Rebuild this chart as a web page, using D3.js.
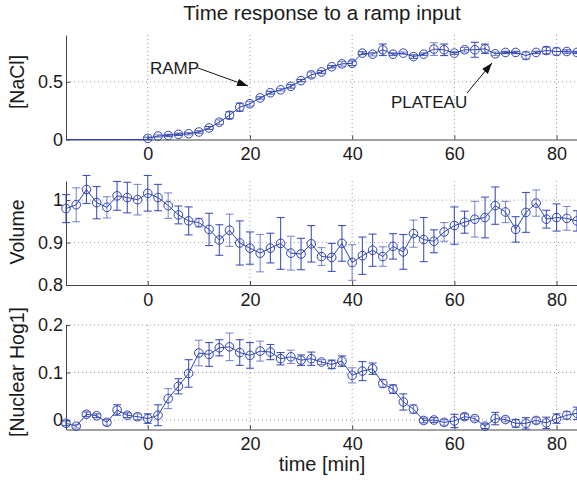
<!DOCTYPE html>
<html>
<head>
<meta charset="utf-8">
<script src="https://cdn.jsdelivr.net/npm/d3@7"></script>
<style>
  body { margin: 0; background: #fff; }
  text { font-family: "Liberation Sans", Arial, Helvetica, sans-serif; fill: #1a1a1a; }
</style>
</head>
<body>
<svg id="chart"></svg>
<script>
var width = 577, height = 488;

// time points, every 2 min
var time = [-16,-14,-12,-10,-8,-6,-4,-2,0,2,4,6,8,10,12,14,16,18,20,22,24,26,28,30,32,34,36,38,40,
            42,44,46,48,50,52,54,56,58,60,62,64,66,68,70,72,74,76,78,80,82,84];

// [NaCl] only measured from t = 0 on
var naclTime = time.filter(t => t >= 0);
var nacl = [0.01,0.03,0.035,0.045,0.05,0.065,0.10,0.15,0.21,0.28,0.31,0.36,0.405,0.43,0.46,0.51,0.56,0.585,0.63,0.655,0.66,
            0.748,0.739,0.777,0.739,0.748,0.718,0.739,0.783,0.777,0.748,0.777,0.777,0.786,0.742,0.754,0.754,0.727,0.754,0.771,0.762,0.762,0.754];
var naclErr = [0.01,0.01,0.01,0.01,0.01,0.01,0.012,0.02,0.03,0.035,0.02,0.01,0.012,0.01,0.015,0.01,0.025,0.012,0.01,0.02,0.02,
            0.012,0.015,0.05,0.01,0.01,0.015,0.01,0.055,0.05,0.01,0.02,0.065,0.04,0.015,0.01,0.01,0.03,0.01,0.03,0.03,0.015,0.01];

var volume = [0.980,0.989,1.025,0.994,0.983,1.010,1.006,1.001,1.016,1.006,0.987,0.965,0.951,0.947,0.931,0.906,0.929,0.899,
              0.887,0.875,0.887,0.898,0.875,0.873,0.897,0.867,0.865,0.898,0.853,0.869,0.882,0.867,0.891,0.878,0.921,0.907,
              0.903,0.925,0.940,0.948,0.955,0.959,0.987,0.972,0.931,0.971,0.993,0.955,0.959,0.957,0.951];
var volumeErr = [0.033,0.04,0.033,0.038,0.025,0.034,0.036,0.036,0.042,0.031,0.03,0.021,0.033,0.01,0.038,0.036,0.038,0.052,
              0.038,0.044,0.035,0.061,0.04,0.037,0.043,0.021,0.033,0.042,0.042,0.044,0.038,0.023,0.03,0.041,0.032,0.052,
              0.027,0.022,0.044,0.026,0.042,0.048,0.044,0.025,0.03,0.047,0.031,0.021,0.032,0.028,0.024];

var hog1 = [-0.007,-0.013,0.012,0.009,-0.005,0.021,0.010,0.007,0.003,0.010,0.045,0.071,0.098,0.141,0.138,0.152,0.154,0.142,
            0.136,0.145,0.143,0.129,0.133,0.126,0.129,0.122,0.117,0.124,0.094,0.103,0.108,0.077,0.065,0.038,0.023,-0.001,
            0.000,-0.005,-0.002,0.007,0.003,-0.013,0.003,0.001,-0.007,-0.007,-0.001,-0.006,0.003,0.010,0.014];
var hog1Err = [0.005,0.004,0.005,0.004,0.006,0.011,0.005,0.006,0.01,0.022,0.021,0.016,0.029,0.027,0.025,0.017,0.029,0.027,
            0.027,0.021,0.016,0.013,0.014,0.011,0.014,0.005,0.009,0.011,0.016,0.02,0.012,0.008,0.009,0.017,0.009,0.005,
            0.005,0.006,0.014,0.006,0.005,0.005,0.013,0.005,0.008,0.012,0.006,0.012,0.01,0.008,0.013];

var xTicks = [0, 20, 40, 60, 80];

var panels = [
  {label: "[NaCl]", t: naclTime, y: nacl, e: naclErr, domain: [0, 0.905], ticks: [0, 0.5], top: 35, bottom: 139.5, labelY: 82, lead: true},
  {label: "Volume", t: time, y: volume, e: volumeErr, domain: [0.8, 1.045], ticks: [0.8, 0.9, 1], top: 181, bottom: 285, labelY: 232},
  {label: "[Nuclear Hog1]", t: time, y: hog1, e: hog1Err, domain: [-0.02, 0.2], ticks: [0, 0.1, 0.2], top: 325, bottom: 429.5, labelY: 372}
];

var blue = "#3043b4";
var fmt = d3.format(".1~f");

var svg = d3.select("#chart").attr("width", width).attr("height", height);

var x = d3.scaleLinear().domain([-16, 84]).range([66, 577]);

svg.append("text")
    .attr("x", 322).attr("y", 20)
    .attr("text-anchor", "middle")
    .style("font-size", "20.5px")
    .text("Time response to a ramp input");

panels.forEach(function(p) {
  var y = d3.scaleLinear().domain(p.domain).range([p.bottom, p.top]);
  var g = svg.append("g");

  // dotted grid
  g.selectAll(".gx").data(xTicks).enter().append("line")
      .attr("x1", d => x(d)).attr("x2", d => x(d))
      .attr("y1", p.top).attr("y2", p.bottom)
      .attr("stroke", "#999").attr("stroke-dasharray", "1,3");
  g.selectAll(".gy").data(p.ticks.filter(d => d !== p.domain[0])).enter().append("line")
      .attr("x1", x.range()[0]).attr("x2", width)
      .attr("y1", d => y(d)).attr("y2", d => y(d))
      .attr("stroke", "#999").attr("stroke-dasharray", "1,3");

  // axes, ticks inward
  var xAxis = d3.axisBottom(x).tickValues(xTicks).tickSizeInner(-4).tickSizeOuter(0).tickPadding(8);
  var ax = g.append("g").attr("transform", "translate(0," + p.bottom + ")").call(xAxis);
  var yAxis = d3.axisLeft(y).tickValues(p.ticks).tickFormat(fmt).tickSizeInner(-4).tickSizeOuter(0).tickPadding(3);
  var ay = g.append("g").attr("transform", "translate(" + x.range()[0] + ",0)").call(yAxis);
  [ax, ay].forEach(function(a) {
    a.select(".domain").attr("stroke", "#444");
    a.selectAll(".tick line").attr("stroke", "#444");
    a.selectAll("text").style("font-size", "18px").attr("fill", "#1a1a1a");
  });

  g.append("text")
      .attr("transform", "translate(24," + p.labelY + ") rotate(-90)")
      .attr("text-anchor", "middle")
      .style("font-size", "19.5px")
      .text(p.label);

  var pts = p.t.map((t, i) => ({t: t, v: p.y[i], e: p.e[i]}));

  if (p.lead) {
    g.append("path")
        .datum([{t: -16, v: 0}, {t: 0, v: 0}])
        .attr("fill", "none").attr("stroke", blue).attr("stroke-width", 1.2)
        .attr("d", d3.line().x(d => x(d.t)).y(d => y(d.v)));
  }

  g.append("path")
      .datum(pts)
      .attr("fill", "none").attr("stroke", blue).attr("stroke-width", 1)
      .attr("d", d3.line().x(d => x(d.t)).y(d => y(d.v)));

  var eb = g.selectAll(".eb").data(pts).enter().append("g")
      .attr("stroke", blue).attr("stroke-opacity", (d, i) => i % 3 === 1 ? 0.6 : 0.9).attr("stroke-width", 1.1);
  eb.append("line")
      .attr("x1", d => x(d.t)).attr("x2", d => x(d.t))
      .attr("y1", d => y(d.v - d.e)).attr("y2", d => y(d.v + d.e));
  eb.append("line")
      .attr("x1", d => x(d.t) - 4).attr("x2", d => x(d.t) + 4)
      .attr("y1", d => y(d.v - d.e)).attr("y2", d => y(d.v - d.e));
  eb.append("line")
      .attr("x1", d => x(d.t) - 4).attr("x2", d => x(d.t) + 4)
      .attr("y1", d => y(d.v + d.e)).attr("y2", d => y(d.v + d.e));

  g.selectAll(".pt").data(pts).enter().append("circle")
      .attr("cx", d => x(d.t)).attr("cy", d => y(d.v)).attr("r", 4.3)
      .attr("fill", "none").attr("stroke", blue).attr("stroke-width", 1);
});

svg.append("text")
    .attr("x", 322).attr("y", 471)
    .attr("text-anchor", "middle")
    .style("font-size", "20px")
    .text("time [min]");

// annotations
var defs = svg.append("defs");
defs.append("marker")
    .attr("id", "arr").attr("viewBox", "0 0 10 10")
    .attr("refX", 10).attr("refY", 5)
    .attr("markerWidth", 11).attr("markerHeight", 11)
    .attr("markerUnits", "userSpaceOnUse")
    .attr("orient", "auto")
  .append("path").attr("d", "M0,1.5 L10,5 L0,8.5 Z").attr("fill", "#111");

svg.append("text").attr("x", 150).attr("y", 74).style("font-size", "17px").text("RAMP");
svg.append("line").attr("x1", 198).attr("y1", 68).attr("x2", 248).attr("y2", 86)
    .attr("stroke", "#111").attr("stroke-width", 1).attr("marker-end", "url(#arr)");

svg.append("text").attr("x", 391).attr("y", 108).style("font-size", "17px").text("PLATEAU");
svg.append("line").attr("x1", 467).attr("y1", 93).attr("x2", 492).attr("y2", 63)
    .attr("stroke", "#111").attr("stroke-width", 1).attr("marker-end", "url(#arr)");
</script>
</body>
</html>
